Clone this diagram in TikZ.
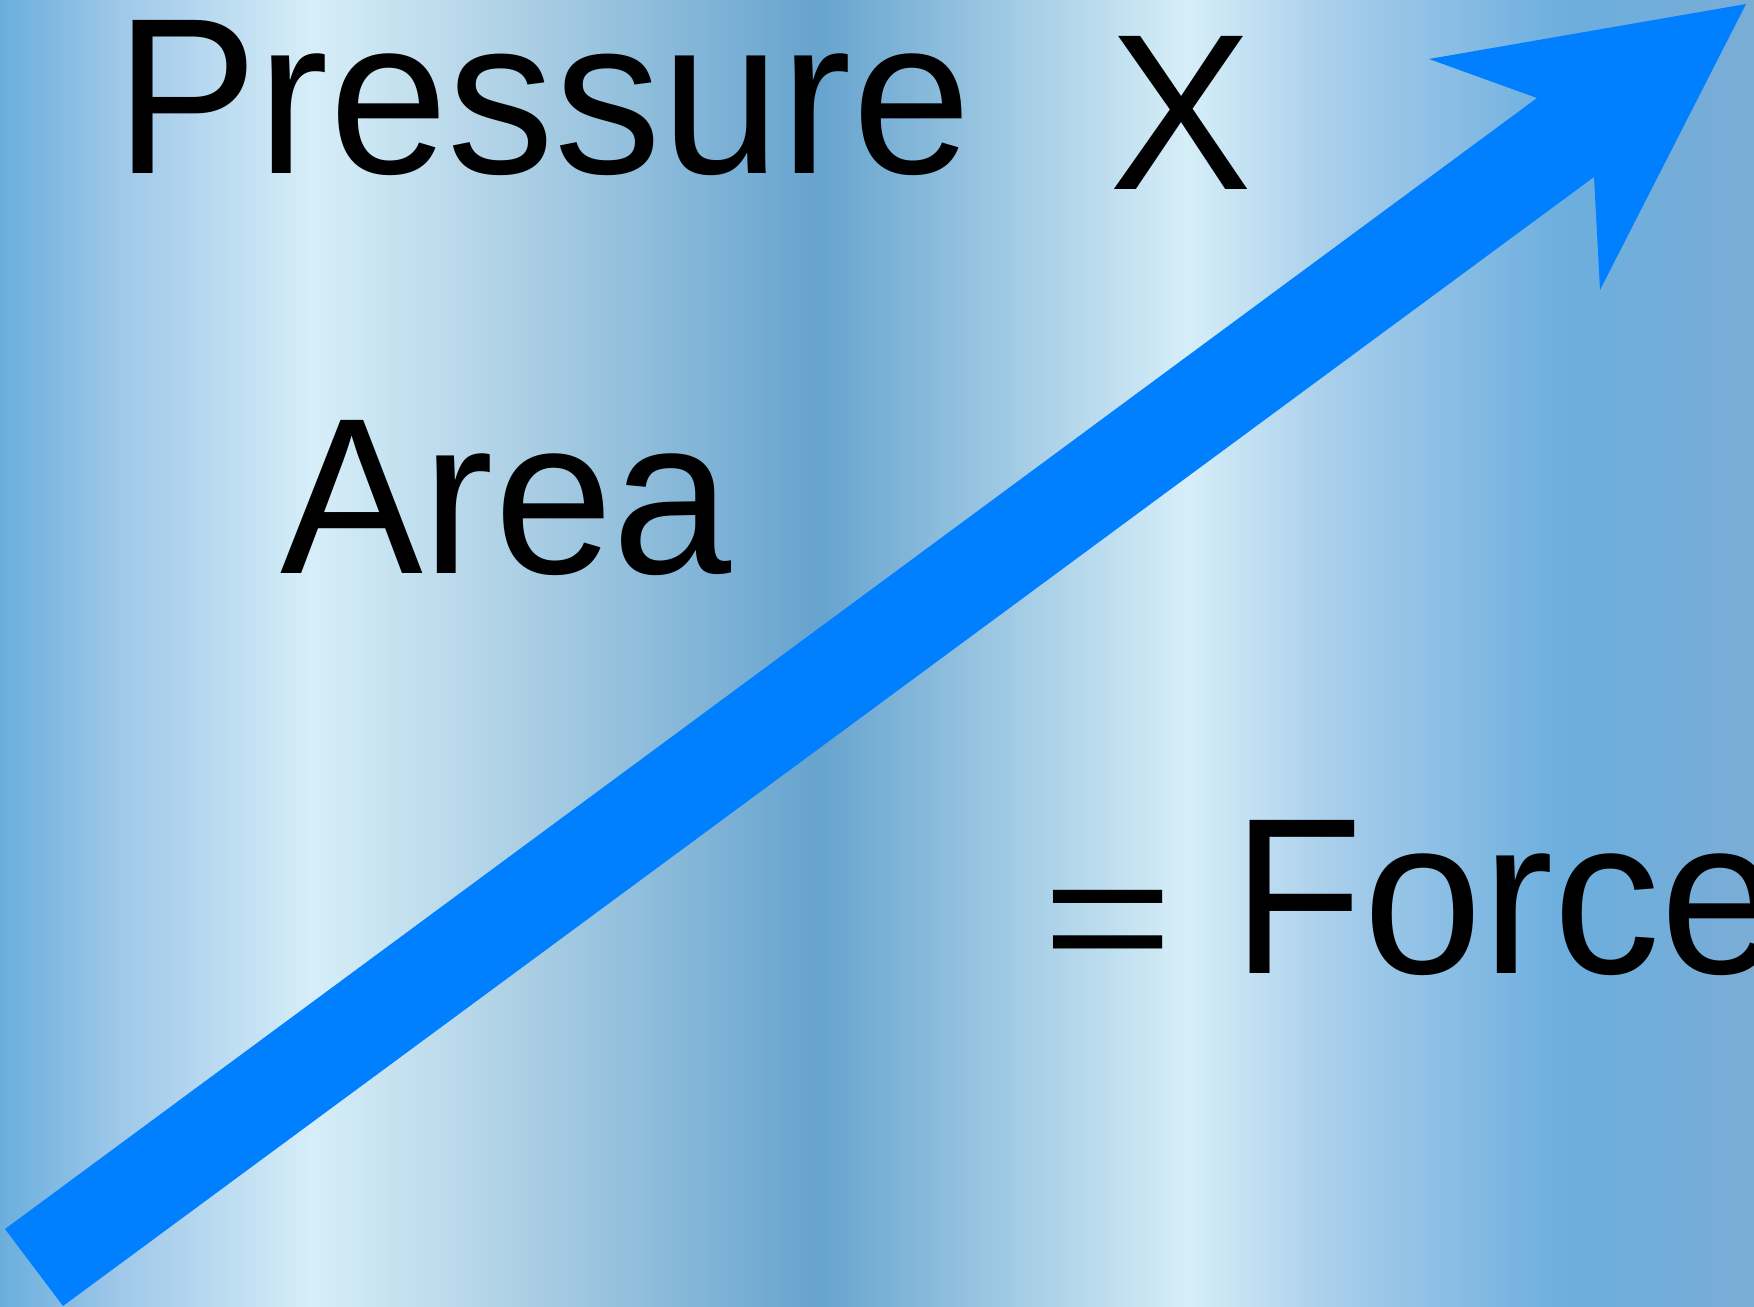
\documentclass[tikz,border=0pt]{standalone}
\usepackage{fontspec}
\setmainfont{Liberation Sans}
\definecolor{s0}{RGB}{106,174,221}
\definecolor{s1}{RGB}{156,198,232}
\definecolor{s2}{RGB}{214,238,248}
\definecolor{s3}{RGB}{176,210,230}
\definecolor{s4}{RGB}{102,163,206}
\definecolor{s5}{RGB}{214,238,248}
\definecolor{s6}{RGB}{165,204,234}
\definecolor{s7}{RGB}{108,174,222}
\definecolor{s8}{RGB}{122,173,214}
\definecolor{arrowblue}{RGB}{0,128,255}
\pgfdeclarehorizontalshading{bgstripes}{100bp}{%
  color(0bp)=(s0); color(25bp)=(s0); color(28.19bp)=(s1); color(33.92bp)=(s2);
  color(39.34bp)=(s3); color(48.3bp)=(s4); color(58.81bp)=(s5);
  color(63.26bp)=(s6); color(69.64bp)=(s7); color(75bp)=(s8); color(100bp)=(s8)}
\newcommand{\tallish}[1]{\scalebox{1}[1.04]{#1}}
\tikzset{
  bigtext/.style={anchor=base west, inner sep=0pt, outer sep=0pt, text=black,
    font=\fontsize{107pt}{128pt}\selectfont},
  bigarrow/.style={fill=arrowblue, draw=none}
}
\begin{document}
\begin{tikzpicture}[x=0.5pt,y=-0.5pt]
\useasboundingbox (0,0) rectangle (1754,1306);
\clip (0,0) rectangle (1754,1306);
\shade[shading=bgstripes] (0,0) rectangle (1754,1306);
\node[bigtext] (pressure) at (115,173) {\tallish{Pressure}};
\node[bigtext] (times) at (1109,189) {\tallish{X}};
\node[bigtext] (area) at (280,573) {\tallish{Area}};
\node[bigtext] (force) at (1042,973) {\raisebox{-3.4pt}{\scalebox{1.05}[0.85]{=}} \tallish{Force}};
\coordinate (t0) at (5,1229);
\coordinate (t1) at (63,1306);
\coordinate (h0) at (1537,98);
\coordinate (h1) at (1429,59);
\coordinate (tip) at (1746,4);
\coordinate (h2) at (1600,290);
\coordinate (h3) at (1594,177);
\fill[bigarrow] (t0) -- (h0) -- (h1) -- (tip) -- (h2) -- (h3) -- (t1) -- cycle;
\end{tikzpicture}
\end{document}
